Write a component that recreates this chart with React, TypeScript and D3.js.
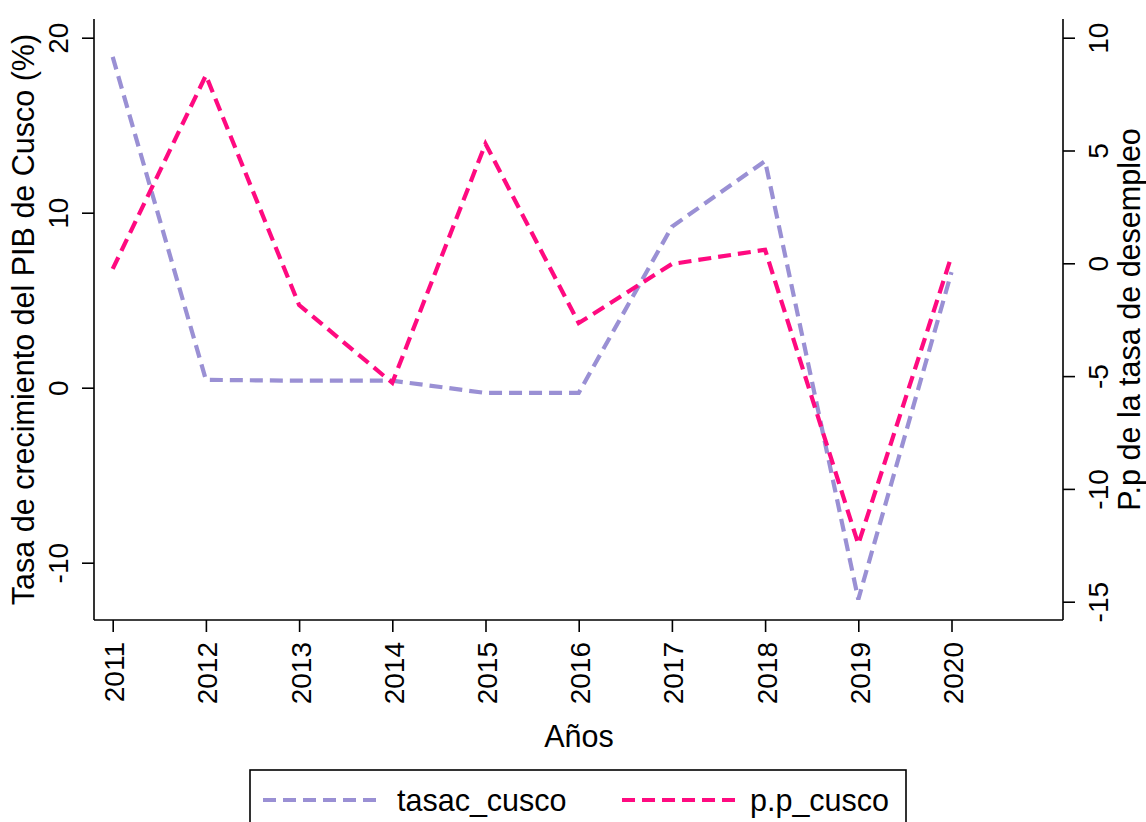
import React, { useEffect, useRef } from "react";
import * as d3 from "d3";

const years = [2011, 2012, 2013, 2014, 2015, 2016, 2017, 2018, 2019, 2020];
const tasacCusco = [18.9, 0.45, 0.4, 0.4, -0.3, -0.3, 9.2, 12.95, -12.1, 6.6];
const ppCusco = [-0.25, 8.33, -1.85, -5.3, 5.3, -2.65, -0.03, 0.6, -12.45, 0.32];
const leftTicks = [-10, 0, 10, 20];
const rightTicks = [-15, -10, -5, 0, 5, 10];
const seriesNames = ["tasac_cusco", "p.p_cusco"];
const seriesColors = ["#9a90d4", "#ff0a80"];

const W = 1146;
const H = 822;
const FONT = "'Liberation Sans', Arial, sans-serif";

export default function App() {
  const ref = useRef<SVGSVGElement>(null);

  useEffect(() => {
    document.body.style.margin = "0";
    const svg = d3.select(ref.current);
    svg.selectAll("*").remove();

    const plotLeft = 94;
    const plotRight = 1063;
    const plotTop = 19;
    const plotBottom = 620;

    const x = d3.scaleLinear().domain([2011, 2020]).range([112.7, 951.5]);
    const yL = d3.scaleLinear().domain([0, 20]).range([387.7, 37.7]);
    const yR = d3.scaleLinear().domain([0, 10]).range([263.3, 37.7]);

    const fs = 28;
    const fsT = 30.5;
    const fmt = (d: any) => String(d);

    // axis lines
    const axes = svg.append("g").attr("stroke", "#000").attr("stroke-width", 1.6).attr("fill", "none");
    axes.append("line").attr("x1", plotLeft).attr("x2", plotLeft).attr("y1", plotTop).attr("y2", plotBottom);
    axes.append("line").attr("x1", plotRight).attr("x2", plotRight).attr("y1", plotTop).attr("y2", plotBottom);
    axes.append("line").attr("x1", plotLeft).attr("x2", plotRight).attr("y1", plotBottom).attr("y2", plotBottom);

    // left ticks
    const gl = svg.append("g").attr("transform", `translate(${plotLeft},0)`)
      .call(d3.axisLeft(yL).tickValues(leftTicks).tickSize(12).tickFormat(fmt));
    gl.select(".domain").remove();
    gl.selectAll(".tick line").attr("stroke-width", 1.6);
    gl.selectAll(".tick text")
      .attr("font-family", FONT).attr("font-size", fs).attr("fill", "#000")
      .attr("text-anchor", "middle").attr("x", null).attr("dy", null)
      .attr("transform", "translate(-26,0) rotate(-90)");

    // right ticks
    const gr = svg.append("g").attr("transform", `translate(${plotRight},0)`)
      .call(d3.axisRight(yR).tickValues(rightTicks).tickSize(12).tickFormat(fmt));
    gr.select(".domain").remove();
    gr.selectAll(".tick line").attr("stroke-width", 1.6);
    gr.selectAll(".tick text")
      .attr("font-family", FONT).attr("font-size", fs).attr("fill", "#000")
      .attr("text-anchor", "middle").attr("x", null).attr("dy", null)
      .attr("transform", "translate(45,0) rotate(-90)");

    // bottom ticks
    const gb = svg.append("g").attr("transform", `translate(0,${plotBottom})`)
      .call(d3.axisBottom(x).tickValues(years).tickSize(12).tickFormat(fmt));
    gb.select(".domain").remove();
    gb.selectAll(".tick line").attr("stroke-width", 1.6);
    gb.selectAll(".tick text")
      .attr("font-family", FONT).attr("font-size", fs).attr("fill", "#000")
      .attr("text-anchor", "end").attr("y", null).attr("dy", null)
      .attr("transform", "translate(11,22) rotate(-90)");

    // titles
    svg.append("text").attr("font-family", FONT).attr("font-size", fsT).attr("text-anchor", "middle")
      .attr("transform", `translate(34,${(plotTop + plotBottom) / 2}) rotate(-90)`)
      .text("Tasa de crecimiento del PIB de Cusco (%)");
    svg.append("text").attr("font-family", FONT).attr("font-size", fsT).attr("text-anchor", "middle")
      .attr("transform", `translate(1140,${(plotTop + plotBottom) / 2}) rotate(-90)`)
      .text("P.p de la tasa de desempleo");
    svg.append("text").attr("font-family", FONT).attr("font-size", fsT).attr("text-anchor", "middle")
      .attr("x", 579).attr("y", 747).text("Años");

    // lines
    const lineL = d3.line<number>().x((_, i) => x(years[i])).y((d) => yL(d));
    const lineR = d3.line<number>().x((_, i) => x(years[i])).y((d) => yR(d));
    svg.append("path").datum(tasacCusco).attr("d", lineL).attr("fill", "none")
      .attr("stroke", seriesColors[0]).attr("stroke-width", 4.2).attr("stroke-dasharray", "13 7");
    svg.append("path").datum(ppCusco).attr("d", lineR).attr("fill", "none")
      .attr("stroke", seriesColors[1]).attr("stroke-width", 4.2).attr("stroke-dasharray", "13 7");

    // legend
    const lg = svg.append("g");
    lg.append("rect").attr("x", 250).attr("y", 770).attr("width", 656).attr("height", 80)
      .attr("fill", "#fff").attr("stroke", "#000").attr("stroke-width", 1.6);
    const items = [
      { x1: 263, x2: 380, tx: 397 },
      { x1: 622, x2: 740, tx: 750 },
    ];
    items.forEach((it, i) => {
      lg.append("line").attr("x1", it.x1).attr("x2", it.x2).attr("y1", 800).attr("y2", 800)
        .attr("stroke", seriesColors[i]).attr("stroke-width", 4.2).attr("stroke-dasharray", "13 7");
      lg.append("text").attr("font-family", FONT).attr("font-size", fsT).attr("x", it.tx).attr("y", 811)
        .text(seriesNames[i]);
    });
  }, []);

  return <svg ref={ref} width={W} height={H} style={{ display: "block", background: "#fff" }} />;
}
